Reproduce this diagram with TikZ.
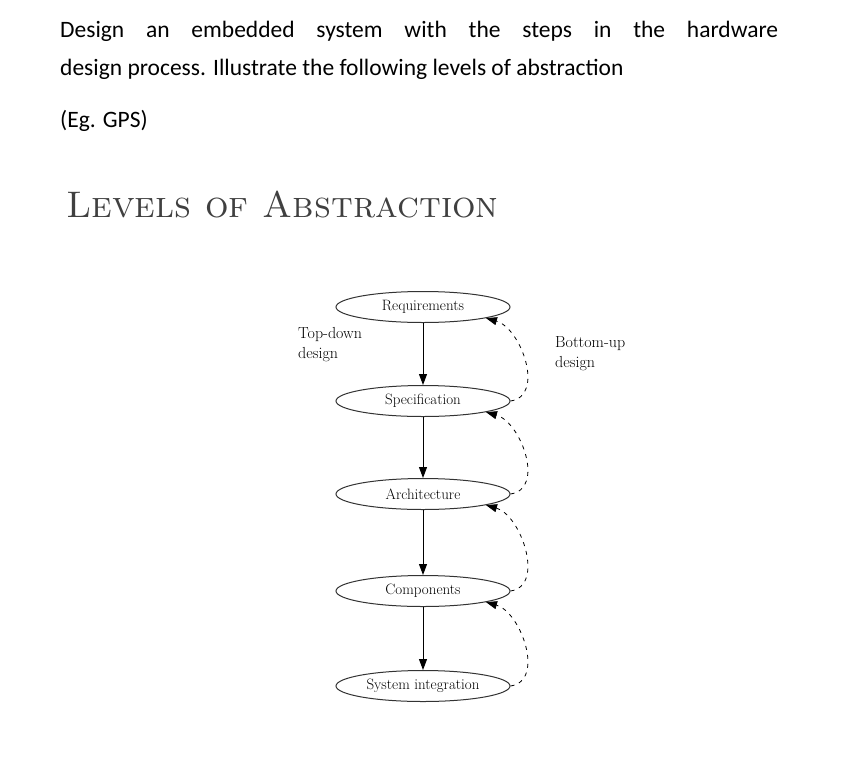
\documentclass[tikz,border=0pt]{standalone}
\usepackage{fontspec}
\newfontfamily\calfont{Carlito}
\usetikzlibrary{shapes.geometric,arrows.meta}
\begin{document}
\begin{tikzpicture}[x=1pt,y=-1pt,
  lvl/.style={ellipse,draw=black!80,line width=1pt,minimum width=174pt,minimum height=31pt,inner sep=0pt,font=\fontsize{15}{17}\selectfont},
  down/.style={-{Triangle[length=11pt,width=8pt]},line width=1pt},
  up/.style={-{Triangle[length=11pt,width=8pt]},line width=0.8pt,dash pattern=on 4pt off 5pt},
  lab/.style={align=left,font=\fontsize{16}{20}\selectfont,anchor=north west,inner sep=0pt},
  hdr/.style={anchor=west,inner sep=0pt,font=\calfont\fontsize{23.5}{28}\selectfont}]
\useasboundingbox[fill=white] (0,0) rectangle (864,766);
\node[hdr] (h1) at (60,31) {\makebox[718pt][s]{Design an embedded system with the steps in the hardware}};
\node[hdr] (h2) at (60,69) {design process. Illustrate the following levels of abstraction};
\node[hdr] (eg) at (60,121) {(Eg. GPS)};
\node[anchor=west,inner sep=0pt,text=black!75,font=\fontsize{37}{42}\selectfont\scshape] (tt) at (66,205) {Levels of Abstraction};
\node[lvl] (r) at (423,307) {Requirements};
\node[lvl] (s) at (423,401) {Specification};
\node[lvl] (a) at (423,494) {Architecture};
\node[lvl] (c) at (423,591) {Components};
\node[lvl] (i) at (423,686) {System integration};
\foreach \p/\q in {r/s,s/a,a/c,c/i} \draw[down] (\p.south) -- (\q.north);
\foreach \p/\q in {s/r,a/s,c/a,i/c}
  \draw[up] (\p.east) .. controls +(35,-5) and +(35,10) .. (\q.-10);
\node[lab] (td) at (298,327) {Top-down\\design};
\node[lab] (bu) at (555,336) {Bottom-up\\design};
\end{tikzpicture}
\end{document}
